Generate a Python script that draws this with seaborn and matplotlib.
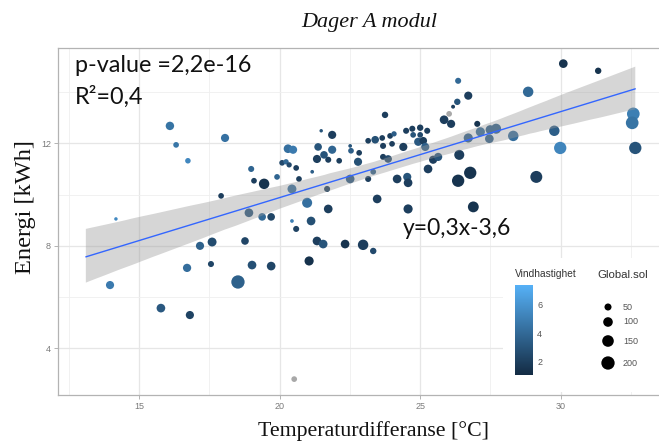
import numpy as np
import pandas as pd
import matplotlib
matplotlib.use("Agg")
import matplotlib.pyplot as plt
import seaborn as sns
from matplotlib.colors import LinearSegmentedColormap, Normalize
from matplotlib.cm import ScalarMappable
from matplotlib.patches import Rectangle

# ---------------- data ----------------
temperatur = [13.97, 14.18, 16.10, 16.32, 16.74, 18.06, 15.78, 16.81, 16.71, 17.17,
              17.60, 17.56, 18.52, 17.92, 18.99, 19.09, 19.45, 18.91, 19.38, 19.70,
              18.77, 19.02, 19.70, 20.52,
              19.91, 20.44, 20.09, 20.23, 20.34, 20.30, 20.48, 20.59, 20.69, 20.98,
              21.12, 20.59, 20.44, 21.48, 21.87, 21.37, 21.87, 21.33, 21.58, 21.73,
              22.12, 21.16, 21.69, 22.51, 22.79, 21.73, 21.05, 21.33, 21.55, 22.33,
              22.97, 23.33, 22.51, 22.54, 22.83, 23.15, 23.15, 23.47, 23.33,
              23.75, 24.50, 24.72, 25.00, 25.25, 24.75, 25.00, 23.65, 23.93, 24.07,
              23.40, 23.68, 24.00, 24.40, 24.93, 25.11, 25.18, 23.68, 23.86, 25.46,
              25.64, 25.28, 24.18, 24.54, 24.57, 26.35, 26.78, 26.39, 24.57, 26.89,
              26.35, 26.71, 26.32, 26.17, 26.03, 25.85, 26.10, 27.03, 26.71, 27.14,
              27.49, 27.70, 27.46, 28.31, 28.84, 30.09, 31.33, 29.77, 29.98, 29.13,
              32.58, 32.54, 32.65]
energi = [6.47, 9.05, 12.68, 11.94, 11.32, 12.21, 5.57, 5.30, 7.14, 8.00,
          8.15, 7.29, 6.59, 9.95, 11.00, 10.54, 10.42, 9.29, 9.13, 9.13,
          8.19, 7.25, 7.21, 2.80,
          10.69, 10.22, 11.24, 11.28, 11.16, 11.79, 11.75, 11.04, 10.61, 9.68,
          8.97, 8.66, 8.97, 12.49, 12.33, 11.86, 11.75, 11.39, 11.55, 11.36,
          11.32, 10.89, 10.22, 10.61, 11.28, 9.44, 7.41, 8.19, 8.07, 8.07,
          8.04, 7.80, 11.90, 11.71, 11.63, 12.10, 10.61, 9.83, 10.89,
          13.11, 12.49, 12.57, 12.61, 12.49, 12.33, 12.33, 12.21, 12.29, 12.37,
          12.14, 11.90, 11.98, 11.86, 12.06, 12.10, 11.86, 11.47, 11.39, 11.36,
          11.47, 11.00, 10.61, 10.69, 10.46, 10.54, 10.85, 11.55, 9.44, 9.52,
          14.44, 13.86, 13.62, 13.43, 13.15, 12.92, 12.76, 12.76, 12.21, 12.45,
          12.53, 12.57, 12.18, 12.29, 14.01, 15.11, 14.83, 12.49, 11.82, 10.69,
          13.15, 12.80, 11.82]
vindhastighet = [4.8, 5.5, 4.5, 4.6, 5.4, 4.4, 3.2, 2.2, 4.2, 3.6,
                 2.6, 2.3, 3.6, 2.0, 3.8, 2.0, 1.5, 3.0, 4.0, 2.3,
                 2.3, 2.8, 2.3, np.nan,
                 3.8, 4.2, 2.5, 4.0, 2.5, 4.3, 4.8, 2.0, 2.0, 4.3,
                 2.8, 2.2, 5.0, 3.0, 2.0, 3.0, 3.8, 2.0, 3.0, 2.0,
                 2.0, 3.5, 2.0, 3.2, 2.8, 2.0, 1.4, 2.0, 3.0, 1.5,
                 2.0, 2.5, 3.0, 3.5, 2.0, 2.0, 2.0, 2.0, 3.5,
                 2.0, 2.0, 2.0, 2.0, 2.0, 3.0, 2.5, 2.0, 2.0, 3.5,
                 2.8, 2.0, 2.0, 2.0, 3.2, 2.0, 3.5, 2.0, 2.5, 2.0,
                 3.0, 2.0, 2.0, 3.0, 2.0, 1.5, 1.5, 2.0, 2.0, 1.5,
                 4.0, 2.0, 3.0, 2.0, np.nan, 2.0, 2.0, 1.5, 3.5, 4.0,
                 3.5, 3.5, 3.5, 4.2, 4.0, 1.5, 1.5, 3.5, 5.3, 2.0,
                 5.0, 4.5, 3.0]
global_sol = [70, 6, 75, 30, 28, 70, 80, 70, 72, 70,
              85, 35, 200, 30, 35, 30, 120, 80, 60, 60,
              60, 80, 80, 30,
              30, 85, 30, 25, 25, 80, 70, 30, 30, 110,
              80, 35, 8, 6, 70, 60, 70, 70, 60, 35,
              30, 8, 35, 80, 70, 80, 90, 80, 80, 80,
              120, 40, 8, 30, 30, 30, 35, 80, 30,
              40, 35, 35, 40, 35, 30, 30, 30, 30, 25,
              60, 35, 30, 70, 70, 60, 70, 35, 60, 70,
              70, 80, 80, 70, 80, 170, 170, 110, 90, 130,
              35, 70, 40, 10, 30, 80, 70, 35, 90, 90,
              90, 110, 80, 120, 120, 80, 40, 120, 170, 160,
              180, 180, 170]

x_ticks = [15, 20, 25, 30]
y_ticks = [4, 8, 12]
wind_ticks = [2, 4, 6]
sol_levels = [50, 100, 150, 200]

df = pd.DataFrame({"Temperaturdifferanse": temperatur, "Energi": energi,
                   "Vindhastighet": vindhastighet, "Global.sol": global_sol})

# ---------------- style ----------------
sns.set_theme(style="white")
plt.rcParams['font.family'] = ['Liberation Sans', 'DejaVu Sans']

W, H = 659, 446
fig = plt.figure(figsize=(W / 100, H / 100), dpi=100)
fig.patch.set_facecolor('white')
ax = fig.add_axes([58 / W, 1 - 395 / H, 604 / W, 347 / H])

cmap = LinearSegmentedColormap.from_list('gg', ['#132B43', '#56B1F7'])
wind_norm = (1.06, 7.4)
size_range = (3.6, 114)
size_norm = (0, 250)

def sol_to_s(v):
    return size_range[0] + (size_range[1] - size_range[0]) * (v - size_norm[0]) / (size_norm[1] - size_norm[0])

# grid
ax.set_xticks(x_ticks)
ax.set_xticks([12.5, 17.5, 22.5, 27.5, 32.5], minor=True)
ax.set_yticks(y_ticks)
ax.set_yticks([2, 6, 10, 14], minor=True)
ax.grid(which='major', color='#E6E6E6', lw=0.9)
ax.grid(which='minor', color='#EFEFEF', lw=0.6)
ax.set_axisbelow(True)

known = df.dropna(subset=['Vindhastighet'])
missing = df[df['Vindhastighet'].isna()]
sns.scatterplot(data=known, x='Temperaturdifferanse', y='Energi', hue='Vindhastighet',
                size='Global.sol', palette=cmap, hue_norm=wind_norm, sizes=size_range,
                size_norm=size_norm, linewidth=0, legend=False, ax=ax, zorder=2)
sns.scatterplot(data=missing, x='Temperaturdifferanse', y='Energi', size='Global.sol',
                sizes=size_range, size_norm=size_norm, color='#A8A8A8', linewidth=0,
                legend=False, ax=ax, zorder=2)

# smoother spanning the data range used by the fit
ax.set_xlim(13.11, 32.65)
n_before = len(ax.collections)
sns.regplot(data=df, x='Temperaturdifferanse', y='Energi', scatter=False, truncate=False,
            ci=95, seed=1, ax=ax, line_kws=dict(color='#3366FF', lw=1.0, zorder=4))
band = ax.collections[-1]
band.set_facecolor('#999999')
band.set_alpha(0.4)
band.set_edgecolor('none')
band.set_zorder(3)

ax.set_xlim(12.12, 33.6)
ax.set_ylim(2.18, 15.72)
ax.set_xlabel('')
ax.set_ylabel('')

for s in ax.spines.values():
    s.set_color('#B3B3B3')
    s.set_linewidth(0.9)
ax.tick_params(axis='both', which='major', length=3, width=0.7, color='#B3B3B3',
               labelsize=6.5, labelcolor='#7A7A7A', pad=2, bottom=True, left=True)
ax.tick_params(axis='both', which='minor', length=0)

# legend background
ax.add_patch(Rectangle((503 / W, 1 - 392 / H), 160 / W, 134 / H, transform=fig.transFigure,
                       facecolor='white', edgecolor='none', zorder=1.5))

# ---------------- texts ----------------
def fit_width(t, target):
    fig.canvas.draw()
    r = fig.canvas.get_renderer()
    bb = t.get_window_extent(r)
    t.set_fontsize(t.get_fontsize() * target / bb.width)

def fit_height(t, target):
    fig.canvas.draw()
    r = fig.canvas.get_renderer()
    bb = t.get_window_extent(r)
    t.set_fontsize(t.get_fontsize() * target / bb.height)

title = fig.text(369 / W, 1 - 22 / H, 'Dager A modul', ha='center', va='center',
                 family='Liberation Serif', style='italic', fontsize=15, color='#111111')
fit_width(title, 136)
xl = fig.text(374 / W, 1 - 431 / H, 'Temperaturdifferanse [°C]', ha='center', va='center',
              family='Liberation Serif', fontsize=15, color='#111111')
fit_width(xl, 232)
yl = fig.text(25 / W, 1 - 207 / H, 'Energi [kWh]', ha='center', va='center', rotation=90,
              family='Liberation Serif', fontsize=15, color='#111111')
fit_height(yl, 135)

pv = fig.text(75 / W, 1 - 65 / H, 'p-value =2,2e-16', ha='left', va='center',
              family=['Lato', 'DejaVu Sans'], fontsize=14, color='#111111')
fit_width(pv, 177)
r2 = fig.text(75 / W, 1 - 97 / H, 'R²=0,4', ha='left', va='center',
              family=['Lato', 'DejaVu Sans'], fontsize=pv.get_fontsize(), color='#111111')
eq = fig.text(403 / W, 1 - 228 / H, 'y=0,3x-3,6', ha='left', va='center',
              family=['Lato', 'DejaVu Sans'], fontsize=14, color='#111111')
fit_width(eq, 109)

# ---------------- legends ----------------
cax = fig.add_axes([515 / W, 1 - 375 / H, 18 / W, 90 / H])
sm = ScalarMappable(norm=Normalize(*wind_norm), cmap=cmap)
cb = fig.colorbar(sm, cax=cax, ticks=wind_ticks)
cb.outline.set_visible(False)
cax.tick_params(axis='y', which='major', direction='in', length=3, width=0.8, color='white',
                left=True, right=True, labelsize=6.5, labelcolor='#555555', pad=3)
cax.tick_params(axis='y', which='minor', length=0)
fig.text(515 / W, 1 - 274 / H, 'Vindhastighet', ha='left', va='center', fontsize=7.3,
         color='#333333')

fig.text(597 / W, 1 - 275 / H, 'Global.sol', ha='left', va='center', fontsize=8.2,
         color='#333333')
lax = fig.add_axes([0, 0, 1, 1], facecolor='none')
lax.set_xlim(0, W)
lax.set_ylim(H, 0)
lax.axis('off')
key_y = [307, 322, 341, 363]
lax.scatter([608] * len(sol_levels), key_y, s=[sol_to_s(v) for v in sol_levels],
            color='black', linewidths=0)
for v, yy in zip(sol_levels, key_y):
    lax.text(623, yy, str(v), ha='left', va='center', fontsize=6.5, color='#555555')

fig.savefig('out.png', dpi=100, facecolor='white')
